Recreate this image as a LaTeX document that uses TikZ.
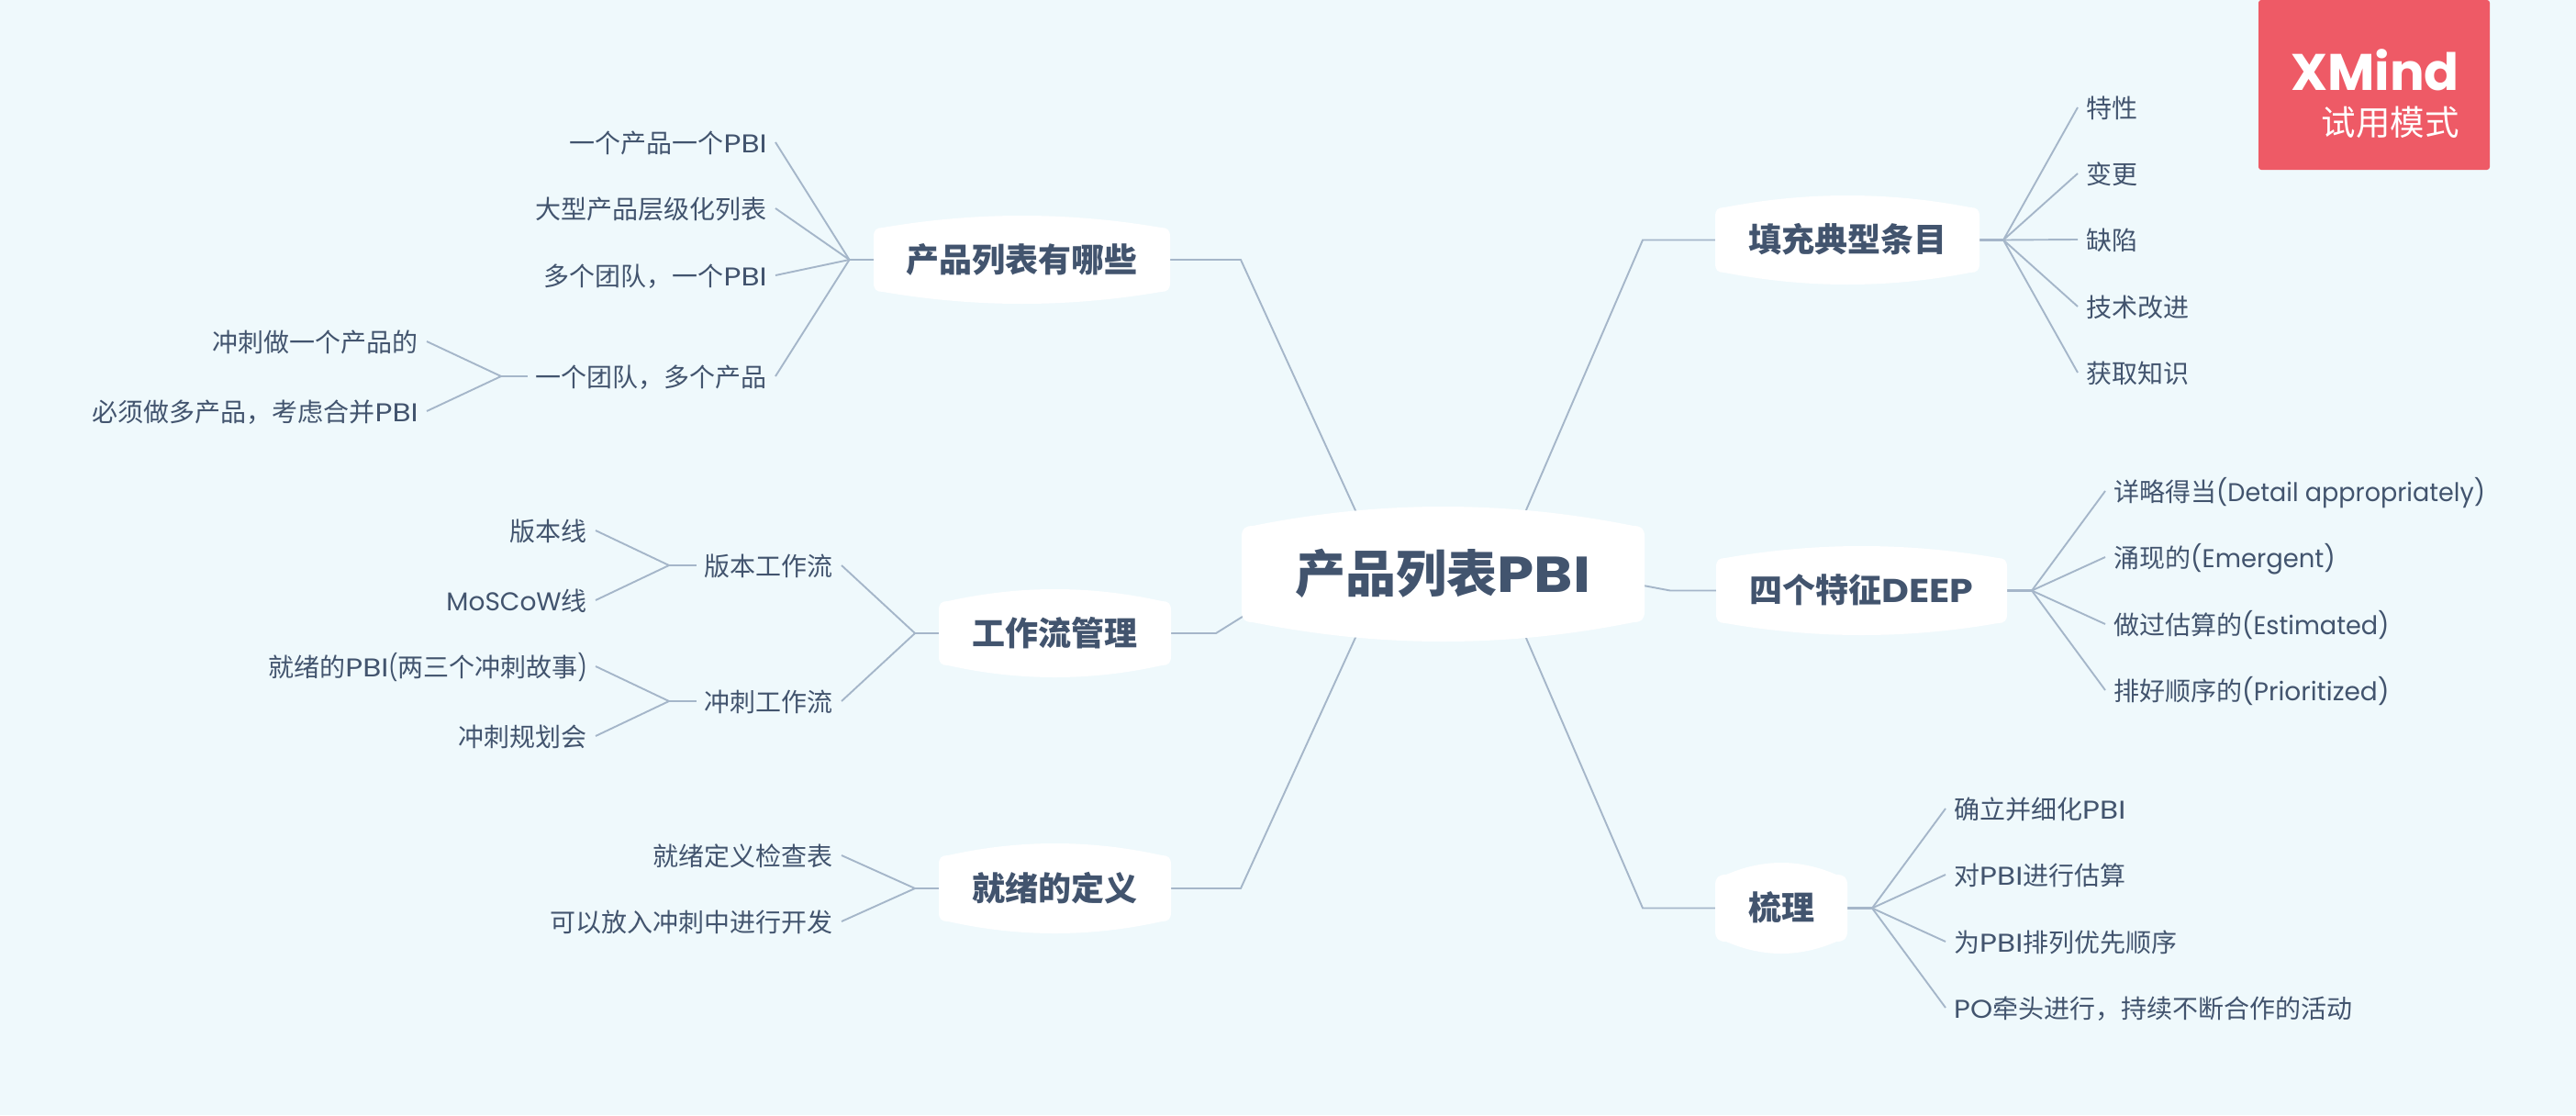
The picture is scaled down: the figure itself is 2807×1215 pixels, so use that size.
\documentclass[tikz,border=0pt]{standalone}
\usepackage{fontspec}
\setmainfont{Noto Sans CJK SC}
\newfontfamily\latfont{Poppins}
\usetikzlibrary{calc}
\pgfdeclarelayer{bglayer}
\pgfdeclarelayer{connlayer}
\pgfdeclarelayer{shapelayer}
\pgfsetlayers{bglayer,connlayer,shapelayer,main}
\newcommand\lw[2][1]{\scalebox{#1}[1]{\latfont #2}}
\newcommand\pbi{\lw[1.17]{PBI}}
\definecolor{bgc}{HTML}{EFF9FC}
\definecolor{txtc}{HTML}{42546E}
\definecolor{linec}{HTML}{A5B6C9}
\definecolor{redc}{HTML}{EE5A66}
\tikzset{
  leafe/.style={anchor=east,text=txtc,inner xsep=9pt,inner ysep=0pt,font=\fontsize{28}{30}\selectfont,text height=28pt,text depth=5pt},
  leafw/.style={leafe,anchor=west},
  branchtxt/.style={text=txtc,inner sep=0pt,font=\bfseries\fontsize{36}{38}\selectfont,text height=32pt,text depth=6pt},
  maintxt/.style={text=txtc,inner sep=0pt,font=\bfseries\fontsize{55}{58}\selectfont,text height=49pt,text depth=9pt},
  conn/.style={draw=linec,line width=1.9pt,line join=miter},
  connthick/.style={draw=linec,line width=2.8pt},
}
% name, cx, cy, w, h, arc rise, corner radius, style, text
\newcommand\hexnode[9]{%
  \node[#8,minimum width=#4pt,minimum height=#5pt] (#1) at (#2,#3) {#9};
  \pgfmathsetmacro\xl{#2-#4/2}\pgfmathsetmacro\xr{#2+#4/2}
  \pgfmathsetmacro\yt{#3-#5/2}\pgfmathsetmacro\yb{#3+#5/2}
  \pgfmathsetmacro\ytc{\yt+#6}\pgfmathsetmacro\ybc{\yb-#6}
  \pgfmathsetmacro\xla{\xl+#7}\pgfmathsetmacro\xra{\xr-#7}
  \pgfmathsetmacro\cxl{\xla+(#2-\xla)*2/3}\pgfmathsetmacro\cxr{\xra-(\xra-#2)*2/3}
  \pgfmathsetmacro\cyt{\ytc-#6*4/3}\pgfmathsetmacro\cyb{\ybc+#6*4/3}
  \pgfmathsetmacro\ysa{\ytc+#7}\pgfmathsetmacro\ysb{\ybc-#7}
  \pgfmathsetmacro\ca{\ytc+#7*0.25}\pgfmathsetmacro\cb{\ybc-#7*0.25}
  \pgfmathsetmacro\xa{\xl+#7*0.3}\pgfmathsetmacro\xb{\xr-#7*0.3}
  \begin{pgfonlayer}{shapelayer}
    \fill[white] (\xl,\ysa) .. controls (\xl,\ca) and (\xa,\ytc) .. (\xla,\ytc)
      .. controls (\cxl,\cyt) and (\cxr,\cyt) .. (\xra,\ytc)
      .. controls (\xb,\ytc) and (\xr,\ca) .. (\xr,\ysa)
      -- (\xr,\ysb) .. controls (\xr,\cb) and (\xb,\ybc) .. (\xra,\ybc)
      .. controls (\cxr,\cyb) and (\cxl,\cyb) .. (\xla,\ybc)
      .. controls (\xa,\ybc) and (\xl,\cb) .. (\xl,\ysb) -- cycle;
  \end{pgfonlayer}
}
\begin{document}
\begin{tikzpicture}[x=1pt,y=-1pt]
\useasboundingbox (0,0) rectangle (2807,1215);
\begin{pgfonlayer}{bglayer}
  \fill[bgc] (0,0) rectangle (2807,1215);
\end{pgfonlayer}

% logo
\fill[redc,rounded corners=3pt] (2461,0) rectangle (2713,185);
\node[anchor=base east,inner sep=0pt,text=white,font=\latfont\bfseries\fontsize{56}{60}\selectfont] (logo) at (2680,98) {XMind};
\node[anchor=base east,inner sep=0pt,text=white,font=\fontsize{37.5}{40}\selectfont] (logosub) at (2680,147) {试用模式};

% centre and branches
\hexnode{c}{1572.5}{625.5}{439}{147}{21}{12}{maintxt}{产品列表\pbi}
\hexnode{bA}{2013}{261.5}{288}{97}{13}{10}{branchtxt}{填充典型条目}
\hexnode{bB}{2028.5}{643.5}{317}{97}{13}{10}{branchtxt}{四个特征\lw[1.14]{DEEP}}
\hexnode{bC}{1941}{989.5}{144}{99}{13}{12}{branchtxt}{梳理}
\hexnode{bD}{1113.5}{283}{323}{96}{13}{10}{branchtxt}{产品列表有哪些}
\hexnode{bE}{1149.5}{690}{253}{96}{13}{10}{branchtxt}{工作流管理}
\hexnode{bF}{1149.5}{968}{253}{98}{13}{10}{branchtxt}{就绪的定义}

% leaves right
\node[leafw] (a1) at (2264,117) {特性};
\node[leafw] (a2) at (2264,189) {变更};
\node[leafw] (a3) at (2264,261) {缺陷};
\node[leafw] (a4) at (2264,334) {技术改进};
\node[leafw] (a5) at (2264,406) {获取知识};
\node[leafw] (d1) at (2294,535) {详略得当\lw[0.965]{(Detail appropriately)}};
\node[leafw] (d2) at (2294,607) {涌现的\lw[0.98]{(Emergent)}};
\node[leafw] (d3) at (2294,680) {做过估算的\lw[0.967]{(Estimated)}};
\node[leafw] (d4) at (2294,752) {排好顺序的\lw{(Prioritized)}};
\node[leafw] (g1) at (2120,881) {确立并细化\pbi};
\node[leafw] (g2) at (2120,953) {对\pbi 进行估算};
\node[leafw] (g3) at (2120,1026) {为\pbi 排列优先顺序};
\node[leafw] (g4) at (2120,1098) {\lw[1.1]{PO}牵头进行，持续不断合作的活动};

% leaves left
\node[leafe] (p1) at (845,155) {一个产品一个\pbi};
\node[leafe] (p2) at (845,227) {大型产品层级化列表};
\node[leafe] (p3) at (845,300) {多个团队，一个\pbi};
\node[leafe] (p4) at (845,410) {一个团队，多个产品};
\node[leafe] (p41) at (465,372) {冲刺做一个产品的};
\node[leafe] (p42) at (465,448) {必须做多产品，考虑合并\pbi};
\node[leafe] (w1) at (917,616) {版本工作流};
\node[leafe] (w2) at (917,764) {冲刺工作流};
\node[leafe] (w11) at (649,578) {版本线};
\node[leafe] (w12) at (649,654) {\lw{MoSCoW}线};
\node[leafe] (w21) at (649,726) {就绪的\pbi\lw[0.8]{(}两三个冲刺故事\lw[0.8]{)}};
\node[leafe] (w22) at (649,802) {冲刺规划会};
\node[leafe] (r1) at (917,932) {就绪定义检查表};
\node[leafe] (r2) at (917,1004) {可以放入冲刺中进行开发};

% junction points
\coordinate (eA) at (1790,261.5);
\coordinate (eB) at (1820,643.5);
\coordinate (eC) at (1790,989.5);
\coordinate (eD) at (1352,283);
\coordinate (eE) at (1325,690);
\coordinate (eF) at (1352,968);
\coordinate (cA) at (1659,565);
\coordinate (cB) at (1780,636);
\coordinate (cC) at (1659,686);
\coordinate (cD) at (1481,565);
\coordinate (cE) at (1365,665);
\coordinate (cF) at (1481,686);
\coordinate (jA) at (2183,261.5);
\coordinate (jB) at (2214,643.5);
\coordinate (jC) at (2040,989.5);
\coordinate (jD) at (925.5,283);
\coordinate (jE) at (997,690);
\coordinate (jF) at (997,968);
\coordinate (jP) at (546,410);
\coordinate (jW1) at (729,616);
\coordinate (jW2) at (729,764);

\begin{pgfonlayer}{connlayer}
  \draw[conn] (cA) -- (eA) -- (bA.west);
  \draw[conn] (cB) -- (eB) -- (bB.west);
  \draw[conn] (cC) -- (eC) -- (bC.west);
  \draw[conn] (cD) -- (eD) -- (bD.east);
  \draw[conn] (cE) -- (eE) -- (bE.east);
  \draw[conn] (cF) -- (eF) -- (bF.east);
  \draw[connthick] (bA.east) -- (jA);
  \draw[connthick] (bB.east) -- (jB);
  \draw[connthick] (bC.east) -- (jC);
  \draw[conn] (bD.west) -- (jD);
  \draw[conn] (bE.west) -- (jE);
  \draw[conn] (bF.west) -- (jF);
  \foreach \n in {a1,a2,a3,a4,a5} \draw[conn] (jA) -- (\n.west);
  \foreach \n in {d1,d2,d3,d4} \draw[conn] (jB) -- (\n.west);
  \foreach \n in {g1,g2,g3,g4} \draw[conn] (jC) -- (\n.west);
  \foreach \n in {p1,p2,p3,p4} \draw[conn] (jD) -- (\n.east);
  \foreach \n in {w1,w2} \draw[conn] (jE) -- (\n.east);
  \foreach \n in {r1,r2} \draw[conn] (jF) -- (\n.east);
  \draw[conn] (p4.west) -- (jP);
  \foreach \n in {p41,p42} \draw[conn] (jP) -- (\n.east);
  \draw[conn] (w1.west) -- (jW1);
  \foreach \n in {w11,w12} \draw[conn] (jW1) -- (\n.east);
  \draw[conn] (w2.west) -- (jW2);
  \foreach \n in {w21,w22} \draw[conn] (jW2) -- (\n.east);
\end{pgfonlayer}
\end{tikzpicture}
\end{document}
